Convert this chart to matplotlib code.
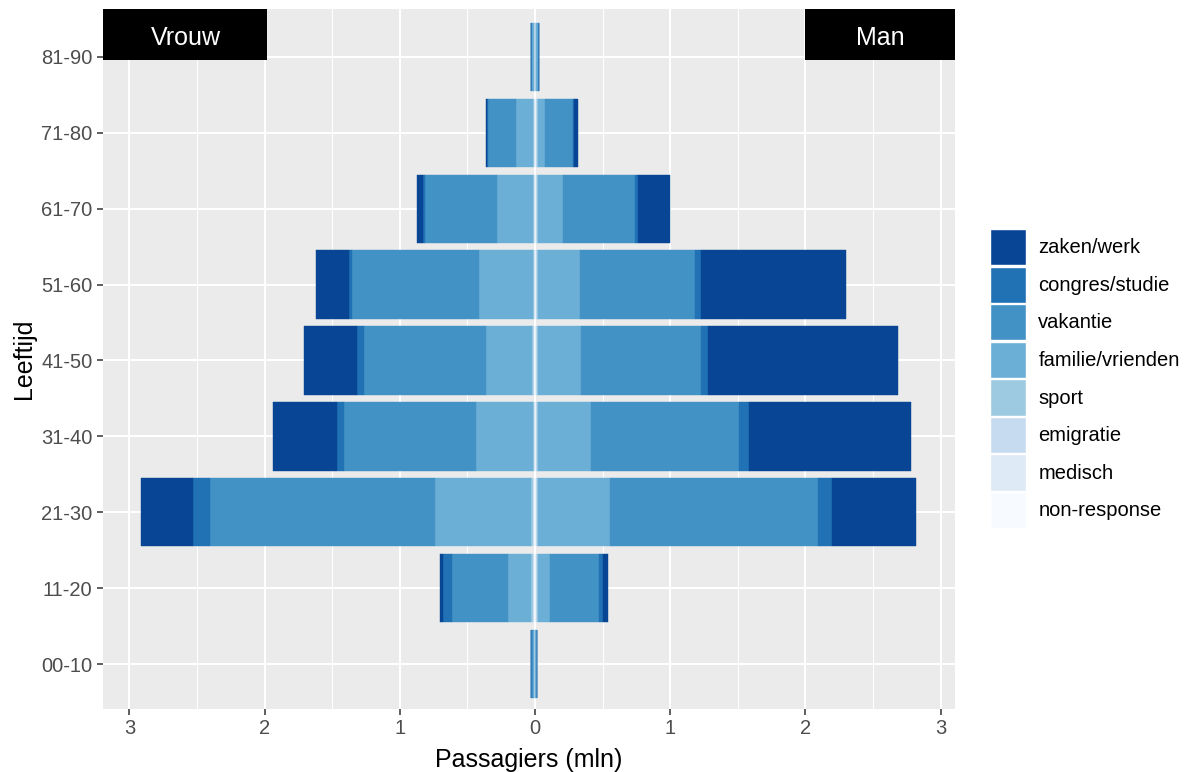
import numpy as np
import matplotlib.pyplot as plt
from matplotlib.patches import Patch, Rectangle

plt.rcParams['font.family'] = ['Liberation Sans', 'DejaVu Sans']

# --- data (mln passagiers) ---
leeftijd = ["00-10", "11-20", "21-30", "31-40", "41-50", "51-60", "61-70", "71-80", "81-90"]
motieven = ["zaken/werk", "congres/studie", "vakantie", "familie/vrienden",
            "sport", "emigratie", "medisch", "non-response"]

# Vrouw (links)
v_zaken = [0.000, 0.020, 0.385, 0.477, 0.395, 0.239, 0.045, 0.012, 0.000]
v_congres = [0.002, 0.067, 0.121, 0.049, 0.049, 0.027, 0.012, 0.005, 0.002]
v_vakantie = [0.012, 0.419, 1.666, 0.973, 0.902, 0.936, 0.531, 0.207, 0.010]
v_familie = [0.014, 0.170, 0.711, 0.422, 0.340, 0.398, 0.267, 0.124, 0.016]
v_sport = [0.001, 0.010, 0.012, 0.006, 0.010, 0.006, 0.006, 0.006, 0.001]
v_emigratie = [0.001, 0.006, 0.006, 0.004, 0.005, 0.004, 0.004, 0.004, 0.001]
v_medisch = [0.001, 0.006, 0.006, 0.004, 0.005, 0.004, 0.004, 0.004, 0.001]
v_nonresp = [0.001, 0.006, 0.006, 0.003, 0.005, 0.003, 0.003, 0.003, 0.001]

# Man (rechts)
m_zaken = [0.000, 0.037, 0.624, 1.200, 1.405, 1.069, 0.235, 0.025, 0.000]
m_congres = [0.000, 0.032, 0.099, 0.074, 0.049, 0.047, 0.024, 0.012, 0.000]
m_vakantie = [0.006, 0.363, 1.536, 1.091, 0.887, 0.852, 0.531, 0.203, 0.010]
m_familie = [0.008, 0.086, 0.533, 0.390, 0.318, 0.306, 0.189, 0.055, 0.016]
m_sport = [0.001, 0.010, 0.010, 0.010, 0.010, 0.010, 0.008, 0.008, 0.002]
m_emigratie = [0.001, 0.005, 0.005, 0.005, 0.005, 0.005, 0.005, 0.005, 0.002]
m_medisch = [0.0005, 0.005, 0.005, 0.005, 0.005, 0.005, 0.004, 0.004, 0.001]
m_nonresp = [0.0005, 0.005, 0.005, 0.005, 0.005, 0.005, 0.004, 0.004, 0.001]

kleuren = ["#084594", "#2171B5", "#4292C6", "#6BAED6",
           "#9ECAE1", "#C6DBEF", "#DEEBF7", "#F7FBFF"]

vrouw = [v_zaken, v_congres, v_vakantie, v_familie, v_sport, v_emigratie, v_medisch, v_nonresp]
man = [m_zaken, m_congres, m_vakantie, m_familie, m_sport, m_emigratie, m_medisch, m_nonresp]

# --- figuur ---
fig = plt.figure(figsize=(11.89, 7.72), dpi=100)
ax = fig.add_axes([103 / 1189, 1 - 709 / 772, (955 - 103) / 1189, (709 - 9) / 772])
ax.set_facecolor("#EBEBEB")

y = np.arange(1, len(leeftijd) + 1)

# stapelen vanaf het midden naar buiten: non-response ... zaken/werk
for data, teken in [(vrouw, -1), (man, 1)]:
    basis = np.zeros(len(leeftijd))
    for i in range(len(motieven) - 1, -1, -1):
        w = np.array(data[i]) * teken
        ax.barh(y, w, left=basis, height=0.9, color=kleuren[i],
                edgecolor=kleuren[i], linewidth=0.3, zorder=3)
        basis = basis + w

ax.set_xlim(-3.195, 3.106)
ax.set_ylim(0.407, 9.632)

ax.set_xticks([-3, -2, -1, 0, 1, 2, 3])
ax.set_xticklabels(["3", "2", "1", "0", "1", "2", "3"])
ax.set_xticks([-2.5, -1.5, -0.5, 0.5, 1.5, 2.5], minor=True)
ax.set_yticks(y)
ax.set_yticklabels(leeftijd)

ax.grid(True, which="major", color="white", linewidth=1.5, zorder=1)
ax.grid(True, which="minor", axis="x", color="white", linewidth=0.75, zorder=1)
ax.set_axisbelow(True)
for s in ax.spines.values():
    s.set_visible(False)

ax.tick_params(axis="both", which="major", length=4, width=1.1, color="#333333",
               labelcolor="#4D4D4D", labelsize=14.5, pad=3.5)
ax.tick_params(axis="x", which="minor", length=0)

ax.set_xlabel("Passagiers (mln)", fontsize=18, labelpad=7)
ax.set_ylabel("Leeftijd", fontsize=18, labelpad=4)

# labels Vrouw / Man
ax.add_patch(Rectangle((-3.195, 8.96), 1.215, 0.672, facecolor="black", edgecolor="none", zorder=5))
ax.add_patch(Rectangle((1.997, 8.96), 1.109, 0.672, facecolor="black", edgecolor="none", zorder=5))
ax.text(-2.585, 9.25, "Vrouw", color="white", fontsize=18, ha="center", va="center", zorder=6)
ax.text(2.55, 9.25, "Man", color="white", fontsize=18, ha="center", va="center", zorder=6)

# legenda
handles = [Patch(facecolor=c, edgecolor="white", linewidth=1) for c in kleuren]
fig.legend(handles, motieven, loc="upper left",
           bbox_to_anchor=(990 / 1189, 1 - 229 / 772), frameon=False,
           fontsize=14.5, handlelength=1.8, handleheight=2.4,
           labelspacing=0.06, handletextpad=0.6, borderpad=0, borderaxespad=0)

fig.savefig("out.png", dpi=100)
